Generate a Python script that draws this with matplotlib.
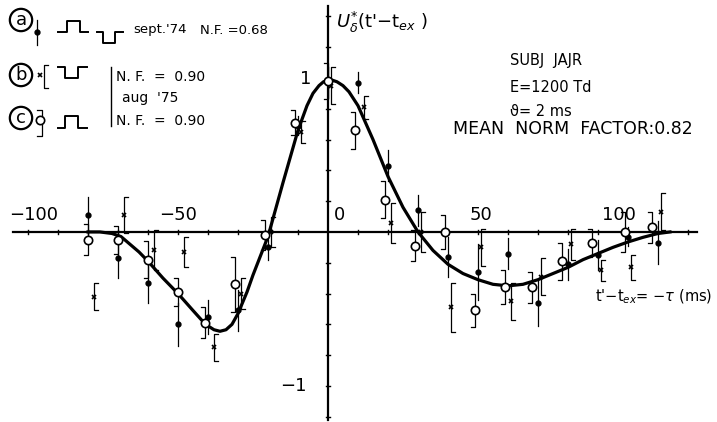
import numpy as np
import matplotlib
matplotlib.use("Agg")
import matplotlib.pyplot as plt

# ---- data ----
curve_t = [-80, -76, -72, -69, -66, -63, -60, -55, -50, -45, -42, -40, -38, -36, -34, -32,
           -30, -27, -25, -22, -20, -15, -10, -7, -5, -3, -1.5, 0, 1.5, 3, 5, 7, 10, 15,
           20, 25, 30, 35, 40, 45, 50, 55, 60, 65, 70, 75, 80, 85, 90, 95, 100, 105,
           110, 114]
curve_v = [0.0, 0.0, -0.01, -0.03, -0.08, -0.13, -0.19, -0.30, -0.40, -0.51, -0.575,
           -0.61, -0.635, -0.645, -0.635, -0.60, -0.53, -0.39, -0.28, -0.13, -0.03, 0.32,
           0.66, 0.82, 0.90, 0.95, 0.975, 0.985, 0.985, 0.975, 0.95, 0.91, 0.82, 0.60,
           0.36, 0.16, 0.0, -0.12, -0.21, -0.27, -0.31, -0.34, -0.35, -0.34, -0.31,
           -0.27, -0.23, -0.18, -0.14, -0.10, -0.065, -0.035, -0.01, 0.0]

a_t = [-80, -70, -60, -50, -40, -30, -20, -10, 0, 10, 20, 30, 40, 50, 60, 70, 80, 90, 100, 110]
a_val = [0.11, -0.17, -0.33, -0.60, -0.55, -0.51, -0.10, 0.69, 0.97, 0.97, 0.43, 0.14,
         -0.16, -0.26, -0.14, -0.46, -0.21, -0.15, -0.03, -0.07]
a_err = [0.12, 0.13, 0.13, 0.14, 0.11, 0.13, 0.08, 0.06, 0.10, 0.07, 0.10, 0.10,
         0.13, 0.18, 0.10, 0.15, 0.10, 0.10, 0.06, 0.14]

b_t = [-78, -68, -58, -48, -38, -29, -19, -9, 1, 12, 21, 31, 41, 51, 61, 71, 81, 91, 101, 111]
b_val = [-0.42, 0.11, -0.12, -0.13, -0.75, -0.40, 0.0, 0.65, 0.95, 0.81, 0.06, 0.0,
         -0.49, -0.10, -0.45, -0.29, -0.08, -0.25, -0.23, 0.13]
b_err = [0.09, 0.12, 0.13, 0.10, 0.085, 0.10, 0.10, 0.07, 0.12, 0.075, 0.13, 0.13,
         0.16, 0.12, 0.12, 0.12, 0.10, 0.07, 0.08, 0.12]

c_t = [-80, -70, -60, -50, -41, -31, -21, -11, 0, 9, 19, 29, 39, 49, 59, 68, 78, 88, 99, 108]
c_val = [-0.05, -0.05, -0.18, -0.39, -0.59, -0.34, -0.02, 0.71, 0.98, 0.66, 0.21, -0.09,
         0.0, -0.51, -0.36, -0.36, -0.19, -0.07, 0.0, 0.03]
c_err = [0.10, 0.09, 0.12, 0.09, 0.10, 0.18, 0.10, 0.08, 0.12, 0.12, 0.12, 0.10,
         0.11, 0.11, 0.11, 0.10, 0.12, 0.09, 0.13, 0.10]

x_ticklabels = ["\u2212100", "\u221250", "0", "50", "100"]
x_ticklabel_pos = [-98, -50, 4, 51, 97]

W, H = 717, 422
fig = plt.figure(figsize=(W / 100, H / 100), dpi=100)
ax = fig.add_axes([0, 0, 1, 1])
ax.set_xlim(-109.33, 129.67)
ax.set_ylim(-1.234, 1.506)
ax.axis("off")

K = "black"
# axes lines
ax.plot([-105, 123], [0, 0], color=K, lw=1.6, zorder=2)
ax.plot([0, 0], [-1.22, 1.47], color=K, lw=1.6, zorder=2)
for xt in range(-100, 121, 10):
    if xt != 0:
        ax.plot([xt, xt], [-0.012, 0.012], color=K, lw=1.0)
for yt in np.arange(-1.2, 1.41, 0.2):
    if abs(yt) > 1e-6:
        ax.plot([-0.8, 0.8], [yt, yt], color=K, lw=1.0)

for lab, xp in zip(x_ticklabels, x_ticklabel_pos):
    ax.text(xp, 0.05, lab, ha="center", va="bottom", fontsize=13)
ax.text(-7.5, 0.99, "1", ha="center", va="center", fontsize=13)
ax.text(-11.5, -1.0, "\u22121", ha="center", va="center", fontsize=13)

# fitted curve
ax.plot(curve_t, curve_v, color=K, lw=2.3, zorder=4, solid_joinstyle="round")

# series a: dot with plain bar
for t, v, e in zip(a_t, a_val, a_err):
    ax.plot([t, t], [v - e, v + e], color=K, lw=0.9, zorder=3)
ax.plot(a_t, a_val, "o", color=K, ms=3.5, zorder=5)

# series b: x with "[" bracket
cw = 1.2
for t, v, e in zip(b_t, b_val, b_err):
    ax.plot([t + cw, t, t, t + cw], [v + e, v + e, v - e, v - e], color=K, lw=0.9, zorder=3)
ax.plot(b_t, b_val, "x", color=K, ms=3.5, mew=1.2, zorder=5)

# series c: open circle with "]" bracket
for t, v, e in zip(c_t, c_val, c_err):
    ax.plot([t - cw, t, t, t - cw], [v + e, v + e, v - e, v - e], color=K, lw=0.9, zorder=3)
ax.plot(c_t, c_val, "o", mfc="white", mec=K, ms=6, mew=1.2, zorder=5)

# axis titles
ax.text(2.6, 1.36, r"$U^{*}_{\delta}$(t'$-$t$_{ex}$ )", fontsize=13, ha="left", va="center")
ax.text(89, -0.42, r"t'$-$t$_{ex}$= $-\tau$ (ms)", fontsize=10.5, ha="left", va="center")

# info text (pixel overlay)
ov = fig.add_axes([0, 0, 1, 1])
ov.set_xlim(0, W)
ov.set_ylim(H, 0)
ov.axis("off")
ov.patch.set_alpha(0)

ov.text(510, 60, "SUBJ  JAJR", fontsize=10.5, ha="left", va="center")
ov.text(510, 87, "E=1200 Td", fontsize=10.5, ha="left", va="center")
ov.text(510, 112, "\u03d1= 2 ms", fontsize=10.5, ha="left", va="center")
ov.text(453, 129, "MEAN  NORM  FACTOR:0.82", fontsize=12.5, ha="left", va="center")

# legend
circ = dict(boxstyle="circle,pad=0.12", fc="white", ec=K, lw=1.6)
for lab, yp in [("a", 20), ("b", 75), ("c", 118)]:
    ov.text(21, yp, lab, fontsize=13, ha="center", va="center", bbox=circ)

# a symbol
ov.plot([37, 37], [20, 45], color=K, lw=0.9)
ov.plot([37], [32], "o", color=K, ms=3.5)
# b symbol
ov.plot([48, 44, 44, 48], [65, 65, 88, 88], color=K, lw=0.9)
ov.plot([40], [75], "x", color=K, ms=3.5, mew=1.2)
# c symbol
ov.plot([37, 42, 42, 37], [110, 110, 136, 136], color=K, lw=0.9)
ov.plot([40], [120], "o", mfc="white", mec=K, ms=6, mew=1.2)

# pulses
ov.plot([58, 67, 67, 80, 80, 88], [32, 32, 21, 21, 32, 32], color=K, lw=1.4)
ov.plot([97, 103, 103, 115, 115, 123], [32, 32, 43, 43, 32, 32], color=K, lw=1.4)
ov.plot([58, 65, 65, 78, 78, 87], [67, 67, 78, 78, 67, 67], color=K, lw=1.4)
ov.plot([58, 65, 65, 78, 78, 87], [128, 128, 116, 116, 128, 128], color=K, lw=1.4)

ov.text(133, 30, "sept.'74", fontsize=9.5, ha="left", va="center")
ov.text(200, 30, "N.F. =0.68", fontsize=9.5, ha="left", va="center")
ov.plot([111, 111], [67, 126], color=K, lw=1.0)
ov.text(116, 77, "N. F.  =  0.90", fontsize=10, ha="left", va="center")
ov.text(122, 98, "aug  '75", fontsize=10, ha="left", va="center")
ov.text(116, 121, "N. F.  =  0.90", fontsize=10, ha="left", va="center")

fig.savefig("out.png", dpi=100, facecolor="white")
